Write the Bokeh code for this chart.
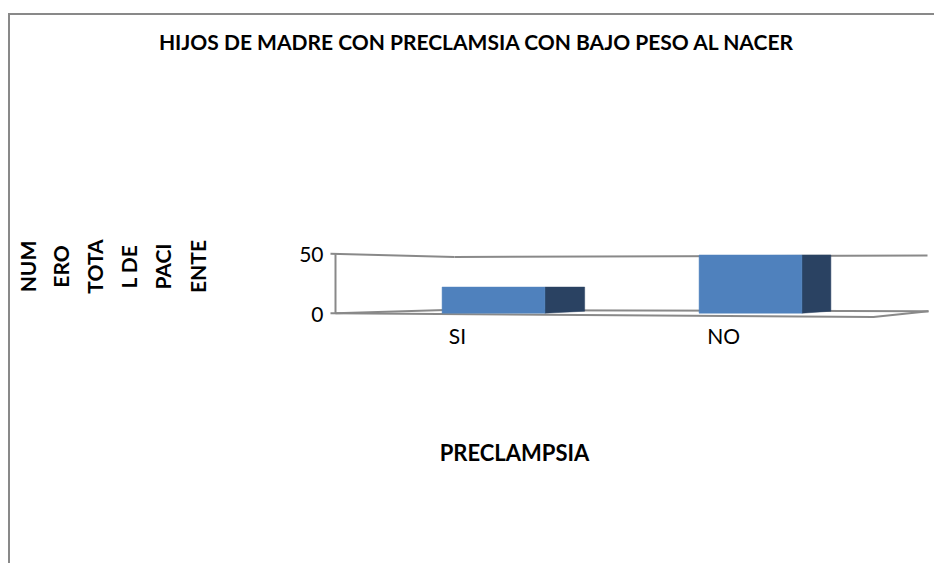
import numpy as np
from bokeh.plotting import figure
from bokeh.models import Range1d, ColumnDataSource, Label
from bokeh.core.properties import value
from bokeh.embed import file_html
from bokeh.resources import INLINE

# ---------------- data ----------------
title_text = "HIJOS DE MADRE CON PRECLAMSIA CON BAJO PESO  AL NACER"
categories = ["SI", "NO"]
counts = [22, 49]
y_ticks = [0, 50]
y_tick_labels = ["0", "50"]
x_title = "PRECLAMPSIA"
y_title_lines = ["NUM", "ERO", "TOTA", "L DE", "PACI", "ENTE"]

# ---------------- layout constants ----------------
W, H = 934, 563
ORIGIN = 0                  # page position of the figure's top-left corner
PX_PER_CAT = 257.0          # pixels per category step
PX_PER_UNIT = 1.188         # pixels per count unit
X_START = -(493 - ORIGIN) / PX_PER_CAT
Y_END = (312.7 - ORIGIN) / PX_PER_UNIT
HALF_W = 0.2                # half bar width in category units


def X(px):
    return X_START + (px - ORIGIN) / PX_PER_CAT


def Y(py):
    return Y_END - (py - ORIGIN) / PX_PER_UNIT


FONT = "Lato"
GRAY = "#898989"
FRONT = "#4F81BD"
SIDE = "#2A4262"

p = figure(width=W, height=H, output_backend="svg", toolbar_location=None,
           x_range=Range1d(X_START, X_START + W / PX_PER_CAT),
           y_range=Range1d(Y_END - H / PX_PER_UNIT, Y_END),
           x_axis_location=None, y_axis_location=None,
           min_border=0, min_border_left=0, min_border_right=0,
           min_border_top=0, min_border_bottom=0)
p.outline_line_color = None
p.xgrid.visible = False
p.ygrid.visible = False
p.background_fill_color = "white"
p.border_fill_color = "white"

# chart border (runs off the page to the right and bottom)
p.line([X(8.5), X(8.5)], [Y(13.5), Y(580)], line_color=GRAY, line_width=2)
p.line([X(7.5), X(950)], [Y(13.5), Y(13.5)], line_color=GRAY, line_width=2)

# 3-D walls and floor
ymax = y_ticks[-1]
WL = X(335)
wall_lines = [
    ([WL, WL], [0, ymax]),
    ([X(330), X(454)], [ymax, Y(256.5)]),
    ([X(454), X(927)], [Y(256.5), Y(255)]),
    ([WL, X(445)], [0, Y(309.5)]),
    ([X(445), X(928)], [Y(309.5), Y(310.7)]),
    ([X(330), X(873), X(928)], [0, Y(316.6), Y(310.8)]),
]
for xs, ys in wall_lines:
    p.line(xs, ys, line_color=GRAY, line_width=2)

# bars
idx = np.arange(len(categories), dtype=float)
vals = np.array(counts, dtype=float)
VX = X(1491)      # vanishing point (data x)
DEPTH_K = 0.042
rise = 2.0 / PX_PER_UNIT

xr = idx + HALF_W
depth = DEPTH_K * (VX - xr)
side_xs = [[a, a + d, a + d, a] for a, d in zip(xr, depth)]
side_ys = [[0, rise, v, v] for v in vals]
p.patches(side_xs, side_ys, fill_color=SIDE, line_color=SIDE, line_width=0.5)

src = ColumnDataSource(dict(x=idx, top=vals, cat=categories,
                            lab_off=-9.3 * (VX - idx),
                            lab_y=[0.0] * len(categories)))
p.vbar(x="x", width=2 * HALF_W, top="top", bottom=0, source=src,
       fill_color=FRONT, line_color=FRONT, line_width=0.5)

# category labels
p.text(x="x", y="lab_y", text="cat", source=src, x_offset="lab_off", y_offset=22,
       text_align="center", text_baseline="middle", text_font=value(FONT),
       text_font_size="21px", text_color="black")

# y tick labels
tsrc = ColumnDataSource(dict(x=[WL] * len(y_ticks), y=y_ticks, t=y_tick_labels))
p.text(x="x", y="y", text="t", source=tsrc, x_offset=-12, y_offset=1,
       text_align="right", text_baseline="middle", text_font=value(FONT),
       text_font_size="21px", text_color="black")

# title
p.add_layout(Label(x=X(479), y=Y(41), text=title_text, text_align="center",
                   text_baseline="middle", text_font=FONT, text_font_style="bold",
                   text_font_size="21px", text_color="black"))

# x axis title
p.add_layout(Label(x=X(514), y=Y(452), text=x_title, text_align="center",
                   text_baseline="middle", text_font=FONT, text_font_style="bold",
                   text_font_size="22px", text_color="black"))

# y axis title (wrapped columns, rotated)
col_x = [27, 59.5, 93.5, 127.5, 162, 196.5]
for cx, t in zip(col_x, y_title_lines):
    p.add_layout(Label(x=X(cx), y=Y(266), text=t, angle=np.pi / 2,
                       text_align="center", text_baseline="middle",
                       text_font=FONT, text_font_style="bold",
                       text_font_size="21px", text_color="black"))

open("out.html", "w").write(file_html(p, INLINE))
